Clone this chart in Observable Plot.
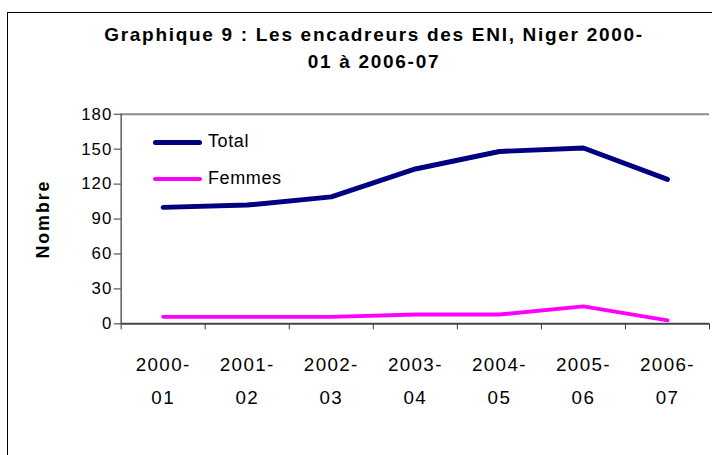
<!DOCTYPE html>
<html>
<head>
<meta charset="utf-8">
<script src="https://cdn.jsdelivr.net/npm/d3@7"></script>
<script src="https://cdn.jsdelivr.net/npm/@observablehq/plot@0.6"></script>
<style>
  html, body { margin: 0; padding: 0; background: #fff; }
  #wrap { position: relative; width: 712px; height: 455px; overflow: hidden; background: #fff;
          font-family: "Liberation Sans", Arial, sans-serif; }
  #frame { position: absolute; left: 7px; top: 12px; width: 800px; height: 600px; border: 1.5px solid #000; box-sizing: border-box; }
  #title { position: absolute; left: 0; top: 21px; width: 748px; text-align: center; font-weight: bold;
           font-size: 19px; letter-spacing: 1.7px; line-height: 27px; color: #000; }
  #chart { position: absolute; left: 0; top: 0; }
  #chart svg text { font-family: "Liberation Sans", Arial, sans-serif; }
  #chart g.ylab, #chart g.ylab text { font-size: 17px !important; letter-spacing: 1px; }
  #chart g[aria-label="x-axis tick label"] { letter-spacing: 1.4px; }
  #chart g.nombre, #chart g.nombre text { font-size: 18px !important; font-weight: bold; letter-spacing: 2px; }
  .leg { position: absolute; font-size: 18px; letter-spacing: 0.6px; color: #000; }
  .sw { position: absolute; border-radius: 3px; }
</style>
</head>
<body>
<div id="wrap">
  <div id="frame"></div>
  <div id="chart"></div>
  <div id="title">Graphique 9 : Les encadreurs des ENI, Niger 2000-<br>01 à 2006-07</div>
  <div id="legend"></div>
</div>
<script>
const categories = ["2000-\n01", "2001-\n02", "2002-\n03", "2003-\n04", "2004-\n05", "2005-\n06", "2006-\n07"];
const total = [100, 102, 109, 133, 148, 151, 124];
const femmes = [6, 6, 6, 8, 8, 15, 3];
const yTicks = [0, 30, 60, 90, 120, 150, 180];
const seriesNames = ["Total", "Femmes"];
const seriesColors = ["#000080", "#FF00FF"];

const idx = categories.map((d, i) => i);
const bounds = [...idx.map(i => i - 0.5), categories.length - 0.5];
const rows = [
  ...total.map((v, i) => ({i, v, s: "Total"})),
  ...femmes.map((v, i) => ({i, v, s: "Femmes"}))
];

const plot = Plot.plot({
  width: 720,
  height: 455,
  marginLeft: 122,
  marginRight: 3,
  marginTop: 115,
  marginBottom: 128,
  style: {fontFamily: '"Liberation Sans", Arial, sans-serif', background: "transparent", color: "#000"},
  x: {type: "linear", domain: [-0.5, categories.length - 0.5], axis: null},
  y: {domain: [0, 180], axis: null},
  marks: [
    Plot.ruleY([180], {stroke: "#8c8c8c", strokeWidth: 2}),
    Plot.axisY({ticks: yTicks, tickSize: 7, tickFormat: () => "", label: null, stroke: "#333"}),
    Plot.text(yTicks, {x: bounds[0], y: d => d, dx: -9, textAnchor: "end", fontSize: 17, className: "ylab"}),
    Plot.axisX({ticks: bounds, tickSize: 6, tickFormat: () => "", label: null, stroke: "#333"}),
    Plot.axisX({ticks: idx, tickSize: 0, tickPadding: 24, fontSize: 19, lineHeight: 1.75, tickFormat: i => categories[i], label: null}),
    Plot.ruleX([bounds[0]], {stroke: "#333", strokeWidth: 1.2}),
    Plot.ruleY([0], {stroke: "#444", strokeWidth: 2}),
    Plot.line(rows, {x: "i", y: "v", z: "s",
      stroke: d => seriesColors[seriesNames.indexOf(d.s)],
      strokeWidth: d => d.s === "Total" ? 5 : 4, strokeLinecap: "round", strokeLinejoin: "round"}),
    Plot.text(["Nombre"], {frameAnchor: "left", textAnchor: "middle", dx: -79, rotate: -90, fontSize: 18, fontWeight: "bold", className: "nombre"})
  ]
});
document.getElementById("chart").appendChild(plot);

// legend
const leg = document.getElementById("legend");
seriesNames.forEach((name, k) => {
  const y = 142 + k * 37;
  const sw = document.createElement("div");
  sw.className = "sw";
  const h = k === 0 ? 5 : 4;
  sw.style.cssText = `left:153px;top:${y - h / 2}px;width:49px;height:${h}px;background:${seriesColors[k]}`;
  leg.appendChild(sw);
  const t = document.createElement("div");
  t.className = "leg";
  t.textContent = name;
  t.style.left = "208px";
  t.style.top = (y - 11) + "px";
  leg.appendChild(t);
});
</script>
</body>
</html>
